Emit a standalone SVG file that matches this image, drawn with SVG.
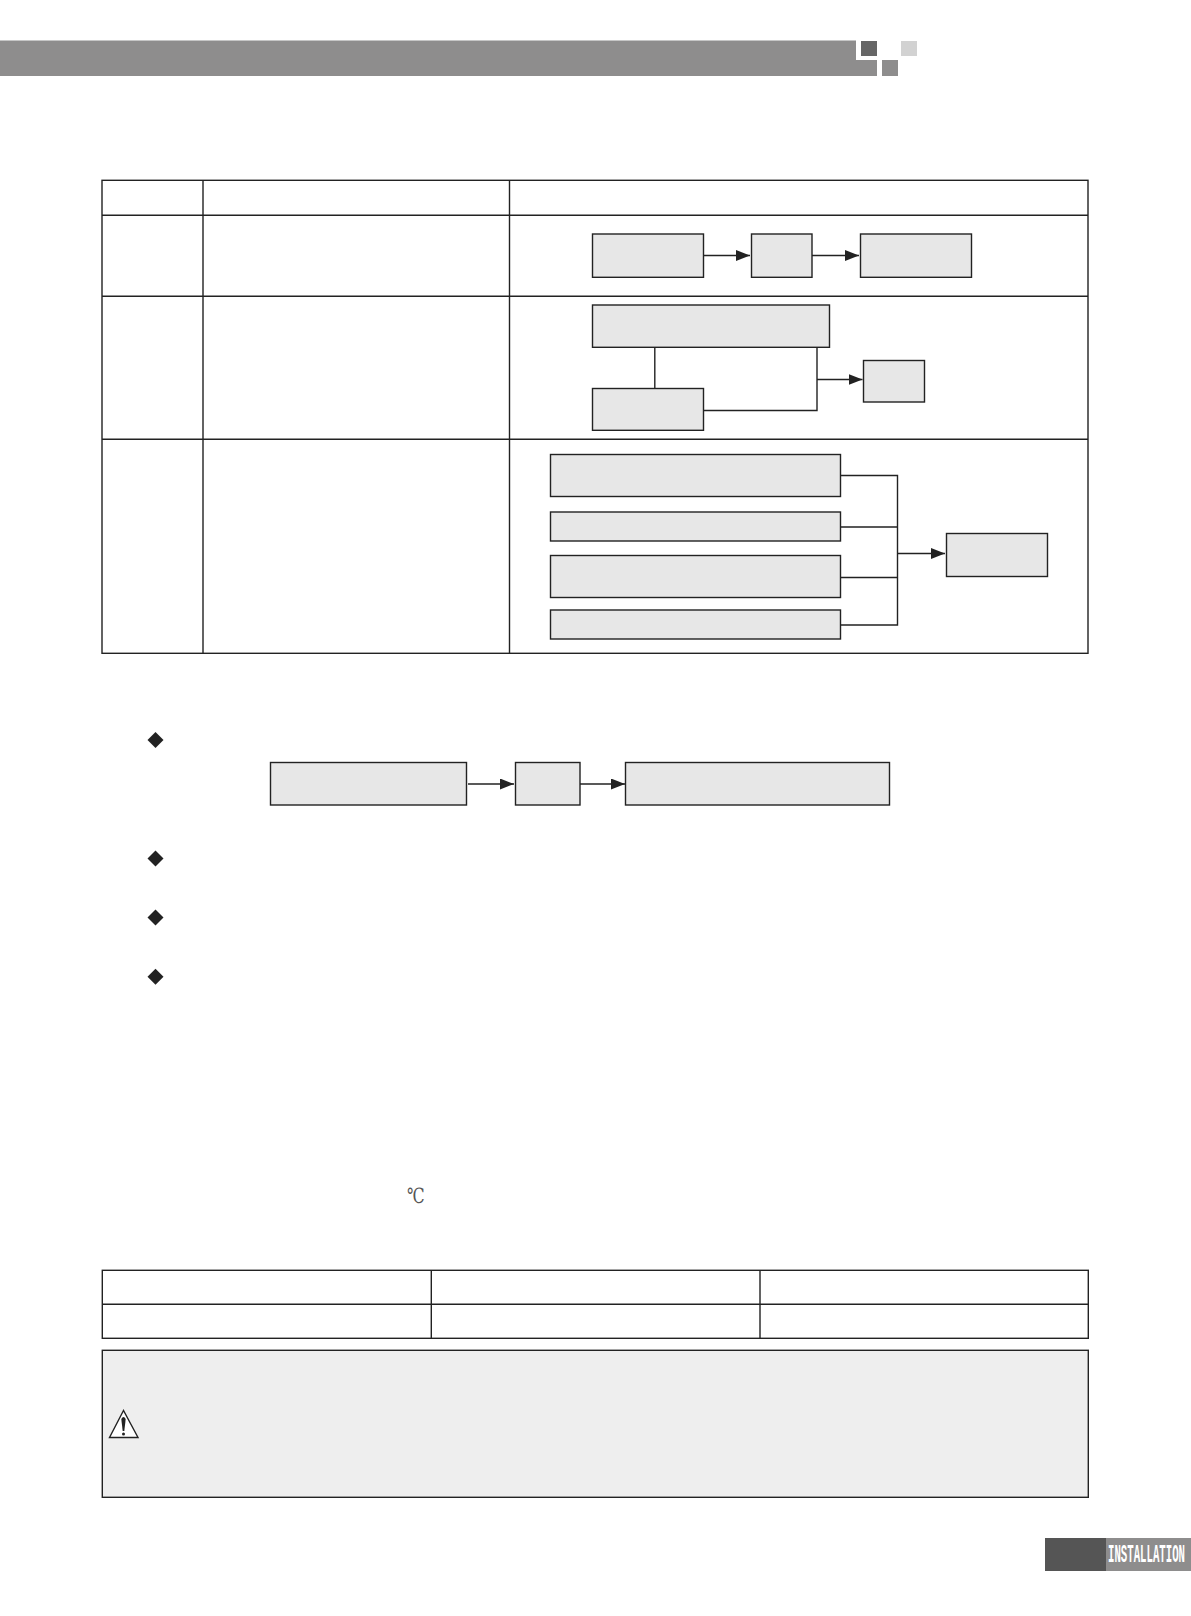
<svg xmlns="http://www.w3.org/2000/svg" width="1191" height="1616" viewBox="0 0 1191 1616">
<style>
.box{fill:#e7e7e7;stroke:#222;stroke-width:1.4}
.grid{fill:none;stroke:#222;stroke-width:1.4}
.conn{fill:none;stroke:#222;stroke-width:1.4}
.dia{fill:#222}
</style>
<defs>
<marker id="arrow" markerUnits="userSpaceOnUse" markerWidth="15" markerHeight="12" refX="14" refY="5.5" orient="auto"><path d="M0 0L14 5.5L0 11Z" fill="#222"/></marker>
</defs>
<rect width="1191" height="1616" fill="#fff"/>
<g id="header">
<path d="M0 40.5H856V60H877V76H0Z" fill="#8e8d8d"/>
<rect x="861" y="41" width="16" height="15" fill="#666"/>
<rect x="901" y="41" width="16" height="15" fill="#d2d2d2"/>
<rect x="882" y="60" width="16" height="16" fill="#8e8d8d"/>
</g>
<g id="table-1" class="grid">
<rect x="102" y="180.300" width="986" height="473"/>
<path d="M203 180.300V653.300M509.500 180.300V653.300M102 215.300H1088M102 296.300H1088M102 439.300H1088"/>
</g>
<g id="n1"><rect class="box" x="592.500" y="234" width="111" height="43.300"/></g>
<g id="n2"><rect class="box" x="751.500" y="234" width="60.500" height="43.300"/></g>
<g id="n3"><rect class="box" x="860.500" y="234" width="111" height="43.300"/></g>
<g id="n4"><rect class="box" x="592.500" y="305" width="237" height="42.300"/></g>
<g id="n5"><rect class="box" x="592.500" y="388.500" width="111" height="41.800"/></g>
<g id="n6"><rect class="box" x="863.500" y="360.500" width="61" height="41.500"/></g>
<g id="n7"><rect class="box" x="550.500" y="454.500" width="290" height="42"/></g>
<g id="n8"><rect class="box" x="550.500" y="512" width="290" height="29"/></g>
<g id="n9"><rect class="box" x="550.500" y="555.500" width="290" height="42"/></g>
<g id="n10"><rect class="box" x="550.500" y="610" width="290" height="29"/></g>
<g id="n11"><rect class="box" x="946.500" y="533.500" width="101" height="43"/></g>
<g id="n12"><rect class="box" x="270.500" y="762.500" width="196" height="42.500"/></g>
<g id="n13"><rect class="box" x="515.500" y="762.500" width="64.500" height="42.500"/></g>
<g id="n14"><rect class="box" x="625.500" y="762.500" width="264" height="42.500"/></g>
<g id="connectors">
<path class="conn" marker-end="url(#arrow)" d="M703.500 255.500H750"/>
<path class="conn" marker-end="url(#arrow)" d="M812 255.500H859"/>
<path class="conn" d="M654.800 347.300V389"/>
<path class="conn" d="M817 347.300V410.500H703.500"/>
<path class="conn" marker-end="url(#arrow)" d="M817 379.500H862.500"/>
<path class="conn" d="M840.500 475.500H897.500V625H840.500M840.500 527H897.500M840.500 577.500H897.500"/>
<path class="conn" marker-end="url(#arrow)" d="M897.500 553.500H945"/>
<path class="conn" marker-end="url(#arrow)" d="M468 784H514"/>
<path class="conn" marker-end="url(#arrow)" d="M580 784H625"/>
</g>
<g id="bullets" class="dia">
<path d="M155.500 732L163.500 740L155.500 748L147.500 740Z"/>
<path d="M155.500 850.500L163.500 858.500L155.500 866.500L147.500 858.500Z"/>
<path d="M155.500 909.500L163.500 917.500L155.500 925.500L147.500 917.500Z"/>
<path d="M155.500 968.700L163.500 976.700L155.500 984.700L147.500 976.700Z"/>
</g>
<text id="unit" transform="translate(407 1203) scale(1.05 1.4)" x="0" y="0" font-family="'DejaVu Serif','Noto Sans CJK SC',serif" font-size="15" fill="#555">℃</text>
<g id="table-2" class="grid">
<rect x="102.300" y="1270.300" width="986" height="68"/>
<path d="M102.300 1304.300H1088.300M431.300 1270.300V1338.300M760 1270.300V1338.300"/>
</g>
<g id="caution">
<rect x="102.300" y="1350.300" width="986" height="147" fill="#eee" stroke="#222" stroke-width="1.4"/>
<path d="M123.500 1410.500L109.500 1437.500H138Z" fill="#fff" stroke="#222" stroke-width="1.4"/>
<path d="M121.300 1419Q123.500 1415 125.700 1419L124.300 1431H122.700Z" fill="#222"/>
<circle cx="123.500" cy="1434" r="1.500" fill="#222"/>
</g>
<g id="footer">
<rect x="1045" y="1538" width="61" height="33" fill="#555"/>
<rect x="1106" y="1538" width="85" height="33" fill="#8e8d8d"/>
<text transform="translate(1108 1562) scale(.428 1)" x="0" y="0" font-family="'Liberation Mono',monospace" font-weight="700" font-size="25" fill="#fff">INSTALLATION</text>
</g>
</svg>
